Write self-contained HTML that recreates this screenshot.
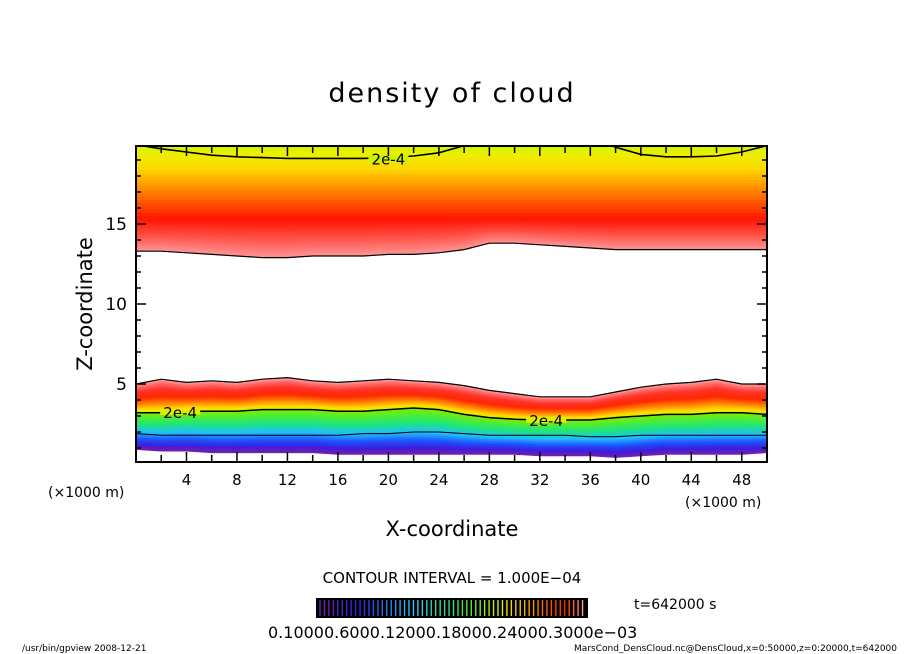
<!DOCTYPE html>
<html><head><meta charset="utf-8">
<style>
html,body{margin:0;padding:0;background:#fff;}
svg{display:block;font-family:"DejaVu Sans","Liberation Sans",sans-serif;}
</style></head>
<body>
<svg id="chart" width="904" height="654" viewBox="0 0 904 654" xmlns="http://www.w3.org/2000/svg">
<defs><clipPath id="pclip"><rect x="136" y="146" width="631" height="316"/></clipPath></defs>
<rect width="904" height="654" fill="#fff"/>
<text x="452" y="102" font-size="27" text-anchor="middle" letter-spacing="2">density of cloud</text>
<g id="plot" clip-path="url(#pclip)"></g>
<g id="axes"></g>
<text transform="translate(92,304) rotate(-90)" font-size="21" text-anchor="middle">Z-coordinate</text>
<text x="452" y="536" font-size="21" text-anchor="middle">X-coordinate</text>
<text x="48" y="497" font-size="14">(×1000 m)</text>
<text x="685" y="507" font-size="14">(×1000 m)</text>
<text x="452" y="583" font-size="15" text-anchor="middle">CONTOUR INTERVAL = 1.000E−04</text>
<g id="cbar"></g>
<text x="634" y="609" font-size="14">t=642000 s</text>
<text x="268" y="638" font-size="16">0.10000.6000.12000.18000.24000.3000e−03</text>
<text x="22" y="651" font-size="9">/usr/bin/gpview   2008-12-21</text>
<text x="897" y="651" font-size="9" text-anchor="end">MarsCond_DensCloud.nc@DensCloud,x=0:50000,z=0:20000,t=642000</text>
</svg>
<script>
const xs = [0,2,4,6,8,10,12,14,16,18,20,22,24,26,28,30,32,34,36,38,40,42,44,46,48,50];
const lowTop = [5.0,5.3,5.1,5.2,5.1,5.3,5.4,5.2,5.1,5.2,5.3,5.2,5.1,4.9,4.6,4.4,4.2,4.2,4.2,4.5,4.8,5.0,5.1,5.3,5.0,5.0];
const contour2e4 = [3.2,3.2,3.3,3.3,3.3,3.4,3.4,3.4,3.3,3.3,3.4,3.5,3.4,3.1,2.9,2.8,2.75,2.75,2.75,2.9,3.0,3.1,3.1,3.2,3.2,3.1];
const lowContour = [1.9,1.8,1.8,1.8,1.8,1.8,1.8,1.8,1.8,1.9,1.9,2.0,2.0,1.9,1.8,1.8,1.8,1.8,1.7,1.7,1.8,1.8,1.8,1.8,1.8,1.8];
const lowBottom = [0.9,0.8,0.8,0.7,0.7,0.7,0.7,0.7,0.6,0.6,0.6,0.6,0.6,0.6,0.6,0.6,0.5,0.5,0.5,0.4,0.5,0.6,0.6,0.6,0.6,0.7];
const upperBottom = [13.3,13.3,13.2,13.1,13.0,12.9,12.9,13.0,13.0,13.0,13.1,13.1,13.2,13.4,13.8,13.8,13.7,13.6,13.5,13.4,13.4,13.4,13.4,13.4,13.4,13.4];
const topContour = [19.95,19.7,19.5,19.3,19.2,19.15,19.1,19.1,19.1,19.1,19.15,19.25,19.45,19.9,20.5,21,21,21,20.5,19.8,19.35,19.2,19.2,19.25,19.5,19.9];
const xTicks = [4,8,12,16,20,24,28,32,36,40,44,48];
const yTicks = [5,10,15];
const cbLabels = ["0.1000","0.6000","0.1200","0.1800","0.2400","0.3000e-03"];

const X0=136,X1=767,Y0=462,Y1=146;
const sx = v => X0 + v*(X1-X0)/50;
const sz = v => 464 - v*16;
const NS="http://www.w3.org/2000/svg";
const plot=document.getElementById('plot'), axes=document.getElementById('axes'), cbar=document.getElementById('cbar');
function mk(tag, attrs, parent){const e=document.createElementNS(NS,tag);for(const k in attrs)e.setAttribute(k,attrs[k]);parent.appendChild(e);return e;}
function lerpC(stops,t){t=Math.max(0,Math.min(1,t));for(let i=0;i<stops.length-1;i++){const a=stops[i],b=stops[i+1];if(t<=b[0]){const f=(t-a[0])/(b[0]-a[0]||1);const c=[0,1,2].map(j=>Math.round(a[1][j]+(b[1][j]-a[1][j])*f));return `rgb(${c})`;}}const l=stops[stops.length-1][1];return `rgb(${l})`;}
function curve(fn){return xs.map((x,i)=>[sx(x),sz(fn(i))]);}
function strip(fa,fb,color,name){
  const a=curve(fa), b=curve(fb).reverse();
  const p=mk('polygon',{points:a.concat(b).map(q=>q.join(',')).join(' '),fill:color,stroke:color,'stroke-width':0.6},plot);
  
  
}
const lowStops1=[[0,[120,30,170]],[0.15,[60,30,220]],[0.3,[30,80,255]],[0.48,[30,190,255]],[0.7,[30,230,120]],[1,[120,240,0]]];
const lowStops2=[[0,[210,240,0]],[0.12,[255,220,0]],[0.3,[255,130,0]],[0.5,[255,40,0]],[0.72,[255,50,40]],[0.9,[255,110,110]],[1,[255,160,160]]];
const N=24;
for(let k=0;k<N;k++){const t0=k/N,t1=(k+1)/N;
  strip(i=>lowBottom[i]+(contour2e4[i]-lowBottom[i])*t0,i=>lowBottom[i]+(contour2e4[i]-lowBottom[i])*t1,lerpC(lowStops1,(t0+t1)/2),'lower-band-strip');}
for(let k=0;k<N;k++){const t0=k/N,t1=(k+1)/N;
  strip(i=>contour2e4[i]+(lowTop[i]-contour2e4[i])*t0,i=>contour2e4[i]+(lowTop[i]-contour2e4[i])*t1,lerpC(lowStops2,(t0+t1)/2),'lower-band-strip');}
const upStops=[[0,[255,150,150]],[0.25,[255,80,70]],[0.5,[255,20,0]],[0.68,[255,130,0]],[0.82,[255,215,0]],[0.92,[235,240,0]],[1,[190,245,0]]];
for(let k=0;k<N*2;k++){const t0=k/(N*2),t1=(k+1)/(N*2);
  const f=t=>i=>{const ub=upperBottom[i];return t<0.5? ub+(15.3-ub)*(t/0.5) : 15.3+(20.2-15.3)*((t-0.5)/0.5);};
  strip(f(t0),f(t1),lerpC(upStops,(t0+t1)/2),'upper-band-strip');}
function line(arr,name,w){const l=mk('polyline',{points:curve(i=>arr[i]).map(q=>q.join(',')).join(' '),fill:'none',stroke:'#000','stroke-width':w},plot);
  
  }
line(lowTop,'lower-band-edge',1.2);line(contour2e4,'contour-2e-4-lower',1.5);line(lowContour,'contour-1e-4-lower',1);
line(upperBottom,'upper-band-edge',1.2);line(topContour,'contour-2e-4-upper',1.6);
function lab(x,z,name){
  const t=mk('text',{x:sx(x),y:sz(z)+6,'font-size':15,'text-anchor':'middle'},plot);t.textContent='2e-4';
  
  }
function gap(x,z,color){mk('rect',{x:sx(x)-20,y:sz(z)-3,width:40,height:6,fill:color},plot);}
gap(20,19.1,'rgb(200,243,0)');lab(20,19.1,'contour-label-top');
gap(3.5,3.25,'rgb(225,235,0)');lab(3.5,3.25,'contour-label-left');
gap(32.5,2.75,'rgb(220,238,0)');lab(32.5,2.75,'contour-label-right');
const fr=mk('rect',{x:X0,y:Y1,width:X1-X0,height:Y0-Y1,fill:'none',stroke:'#000','stroke-width':2},axes);


for(let v=2;v<50;v+=2){const L=(v%4===0)?10:7;
  mk('line',{x1:sx(v),x2:sx(v),y1:Y0,y2:Y0-L,stroke:'#000','stroke-width':1.5},axes);
  mk('line',{x1:sx(v),x2:sx(v),y1:Y1,y2:Y1+L,stroke:'#000','stroke-width':1.5},axes);}
for(let v=1;v<20;v++){const L=(v%5===0)?10:5;
  mk('line',{x1:X0,x2:X0+L,y1:sz(v),y2:sz(v),stroke:'#000','stroke-width':1.5},axes);
  mk('line',{x1:X1,x2:X1-L,y1:sz(v),y2:sz(v),stroke:'#000','stroke-width':1.5},axes);}
xTicks.forEach(v=>{const t=mk('text',{x:sx(v),y:485,'font-size':15,'text-anchor':'middle'},axes);t.textContent=v;
  
  });
yTicks.forEach(v=>{const t=mk('text',{x:127,y:sz(v)+6,'font-size':17,'text-anchor':'end'},axes);t.textContent=v;
  
  });
const cb=mk('rect',{x:316,y:598,width:272,height:20,fill:'#000'},cbar);


const cbStops=[[0,[120,30,170]],[0.15,[40,40,230]],[0.35,[40,200,255]],[0.55,[60,230,60]],[0.7,[230,240,0]],[0.82,[255,140,0]],[0.93,[255,30,0]],[1,[255,150,150]]];
for(let k=0;k<60;k++){const x=320+k*4.45;
  mk('line',{x1:x,x2:x,y1:600,y2:616,stroke:lerpC(cbStops,k/59),'stroke-width':1.4},cbar);}
</script>
</body></html>
